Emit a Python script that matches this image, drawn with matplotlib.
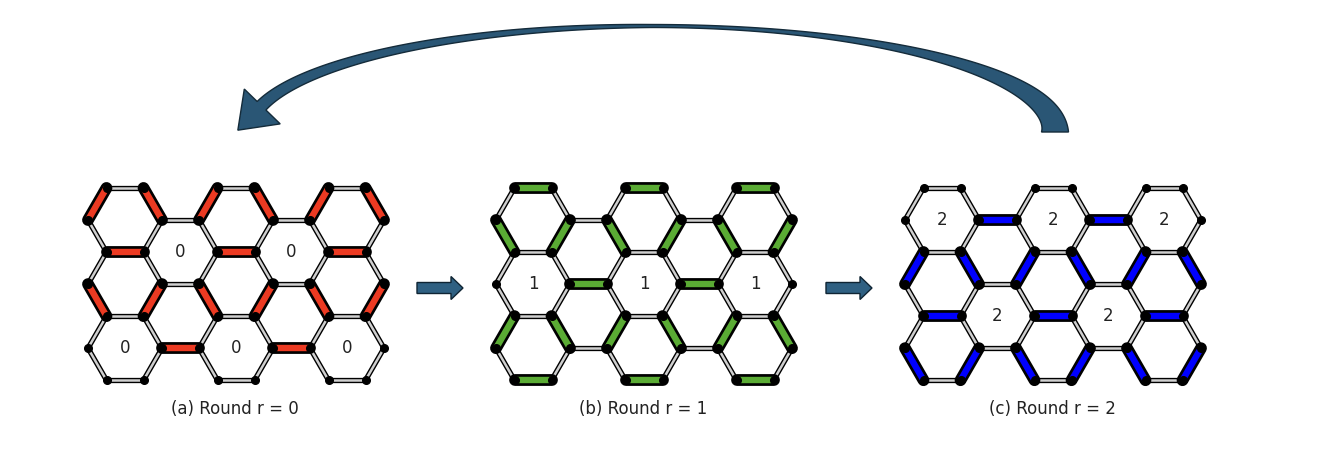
import numpy as np
import matplotlib
matplotlib.use("Agg")
import matplotlib.pyplot as plt
from matplotlib.patches import Polygon, FancyArrow

# lattice: columns of flat-top hexagons, h = half-row index (down)
hex_cells = [(0, 0), (0, 2), (0, 4), (1, 1), (1, 3), (2, 0), (2, 2), (2, 4),
             (3, 1), (3, 3), (4, 0), (4, 2), (4, 4)]
panel_x0 = [125, 533, 942]      # centre of column 0, top hexagon
panel_y0 = 220
rounds = [0, 1, 2]
round_colors = ['#ec3a22', '#5aab34', '#0000ff']
captions = ['(a) Round r = 0', '(b) Round r = 1', '(c) Round r = 2']
R = 37.0


def hex_color(i, h):
    return (2 + h) % 3


def center(i, h, x0):
    return x0 + 1.5 * R * i, panel_y0 + np.sqrt(3) / 2 * R * h


fig = plt.figure(figsize=(13.3, 4.72), dpi=100)
ax = fig.add_axes([0, 0, 1, 1])
ax.set_xlim(0, 1330)
ax.set_ylim(472, 0)
ax.axis('off')

# neighbour offsets and the corresponding edge (vertex angle pairs, degrees, y down)
nbrs = [((0, -2), (240, 300)), ((1, -1), (300, 0)), ((1, 1), (0, 60)),
        ((0, 2), (60, 120)), ((-1, 1), (120, 180)), ((-1, -1), (180, 240))]

for p, x0 in enumerate(panel_x0):
    r = rounds[p]
    seen = set()
    edges = []
    verts = set()
    for (i, h) in hex_cells:
        cx, cy = center(i, h, x0)
        c0 = hex_color(i, h)
        for (di, dh), (a1, a2) in nbrs:
            key = tuple(sorted([(i, h), (i + di, h + dh)]))
            if key in seen:
                continue
            seen.add(key)
            c1 = hex_color(i + di, h + dh)
            ecol = 3 - c0 - c1
            pa = (cx + R * np.cos(np.radians(a1)), cy + R * np.sin(np.radians(a1)))
            pb = (cx + R * np.cos(np.radians(a2)), cy + R * np.sin(np.radians(a2)))
            edges.append((pa, pb, ecol == r))
            verts.add((round(pa[0], 1), round(pa[1], 1)))
            verts.add((round(pb[0], 1), round(pb[1], 1)))
        if c0 == r:
            ax.text(cx, cy, str(r), ha='center', va='center', fontsize=12, color='#222222')
    for pa, pb, hot in edges:
        xs, ys = [pa[0], pb[0]], [pa[1], pb[1]]
        if hot:
            ax.plot(xs, ys, color='black', lw=8.5, solid_capstyle='round', zorder=2)
            ax.plot(xs, ys, color=round_colors[p], lw=4.6, solid_capstyle='butt', zorder=3)
        else:
            ax.plot(xs, ys, color='black', lw=3.8, solid_capstyle='round', zorder=1)
            ax.plot(xs, ys, color='#cfcfcf', lw=1.8, zorder=1.5)
    vx, vy = zip(*verts)
    ax.plot(vx, vy, 'o', color='black', ms=5.5, zorder=4)
    ax.text(x0 + 110, 409, captions[p], ha='center', va='center', fontsize=12, color='#222222')

# small arrows between panels
for xs in [417, 826]:
    ax.add_patch(FancyArrow(xs, 288, 34, 0, width=11, head_width=23, head_length=12,
                            length_includes_head=False, facecolor='#2f6082',
                            edgecolor='#0f2433', lw=1, zorder=5))

# big curved arrow from (c) back to (a)
cx, cy, a, b = 652, 132, 403, 106
t = np.linspace(0, np.pi - 0.25, 300)
w = np.where(t < np.pi / 2, 3 + 24 * (1 - t / (np.pi / 2)) ** 2,
             3 + 11 * ((t - np.pi / 2) / (np.pi / 2)))
px = cx + a * np.cos(t)
py = cy - b * np.sin(t)
tx, ty = -a * np.sin(t), -b * np.cos(t)
nrm = np.hypot(tx, ty)
nx, ny = ty / nrm, -tx / nrm
outer = np.c_[px + nx * w / 2, py + ny * w / 2]
inner = np.c_[px - nx * w / 2, py - ny * w / 2]
ux, uy = tx[-1] / nrm[-1], ty[-1] / nrm[-1]
bx, by = px[-1], py[-1]
head = np.array([[bx + nx[-1] * 26, by + ny[-1] * 26],
                 [bx + ux * 34, by + uy * 34],
                 [bx - nx[-1] * 24, by - ny[-1] * 24]])
poly = np.vstack([outer, head, inner[::-1]])
ax.add_patch(Polygon(poly, closed=True, facecolor='#2a5675', edgecolor='#142b3a',
                     lw=1, zorder=5))

fig.savefig('out.png', dpi=100)
